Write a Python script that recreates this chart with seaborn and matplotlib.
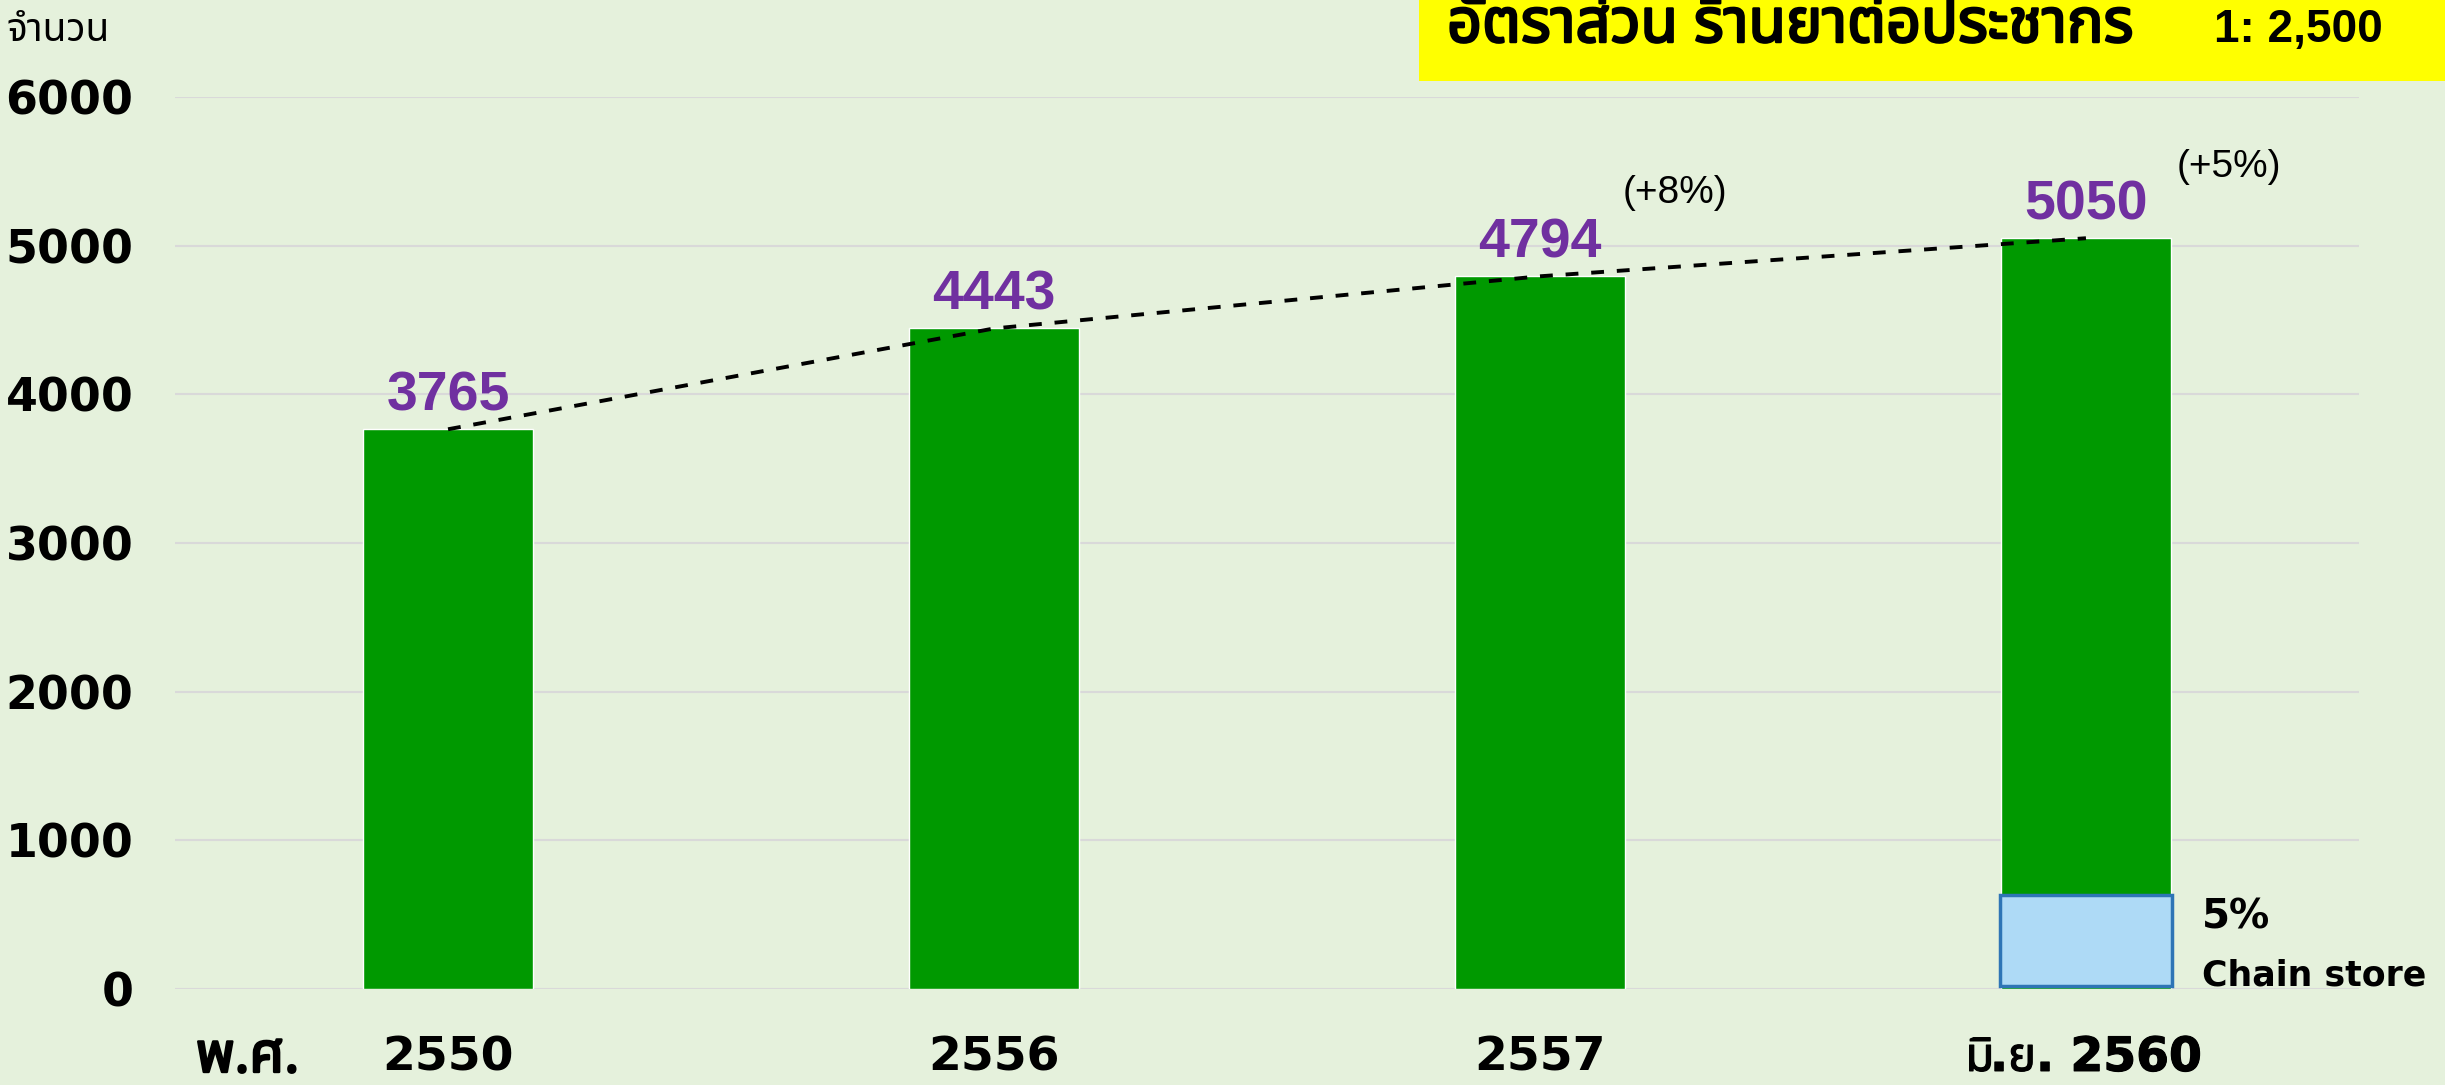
import matplotlib
matplotlib.use('Agg')
import matplotlib.pyplot as plt
import matplotlib.patheffects as pe
import seaborn as sns
from matplotlib import font_manager
from matplotlib.ft2font import FT2Font
from matplotlib.transforms import blended_transform_factory

# ข้อมูล: จำนวนร้านยา
years = ['2550', '2556', '2557', 'มิ.ย. 2560']
stores = [3765, 4443, 4794, 5050]
growth_labels = ['', '', '(+8%)', '(+5%)']
y_ticks = [0, 1000, 2000, 3000, 4000, 5000, 6000]
y_title = 'จำนวน'
era_label = 'พ.ศ.'
title_text = 'อัตราส่วน ร้านยาต่อประชากร'
ratio_text = '1: 2,500'
chain_pct = '5%'
chain_label = 'Chain store'


def thai_font():
    # หาฟอนต์ที่มีอักษรไทย
    preferred = ['Noto Sans Thai', 'Noto Sans Thai UI', 'Loma', 'Garuda', 'Waree',
                 'Sawasdee', 'Umpush', 'Norasi', 'Kinnari', 'Laksaman', 'Tlwg Typo']
    found = []
    for f in font_manager.fontManager.ttflist:
        try:
            if ord('จ') in FT2Font(f.fname).get_charmap():
                found.append(f.name)
        except Exception:
            continue
    for name in preferred:
        if name in found:
            return name
    return found[0] if found else 'DejaVu Sans'


installed = {f.name for f in font_manager.fontManager.ttflist}
THAI = thai_font()
NUM_FONT = 'Liberation Sans Narrow' if 'Liberation Sans Narrow' in installed else 'Liberation Sans'

BG = '#E5F1DC'
sns.set_theme(style='whitegrid')
plt.rcParams.update({'figure.facecolor': BG, 'axes.facecolor': BG, 'savefig.facecolor': BG,
                     'text.color': 'black', 'xtick.color': 'black', 'ytick.color': 'black'})
plt.rcParams['font.family'] = ['DejaVu Sans', THAI]

# ตัวหนาเทียมสำหรับอักษรไทย
fake_bold = [pe.withStroke(linewidth=1.8, foreground='black')]

fig = plt.figure(figsize=(24.45, 10.85), dpi=100)
ax = fig.add_axes([0.0716, 0.0885, 0.8932, 0.8221])

# แท่งกราฟ
sns.barplot(x=years, y=stores, color='#009900', saturation=1, width=0.311, ax=ax, zorder=2)

# เส้นประแนวโน้ม
sns.lineplot(x=list(range(len(stores))), y=stores, color='black', linewidth=2.8, ax=ax, zorder=4)
ax.lines[-1].set_linestyle((0, (3.3, 3.3)))

# กล่อง chain store
ax.bar(3, 610, bottom=20, width=0.314, color='#AEDAF6', edgecolor='#2E75B6', linewidth=2.5, zorder=3)
ax.text(3.213, 482, chain_pct, fontsize=29, fontweight='bold', ha='left', va='center', zorder=5)
ax.text(3.213, 94, chain_label, fontsize=25, fontweight='bold', ha='left', va='center', zorder=5)

# ตัวเลขบนแท่ง
for i, v in enumerate(stores):
    ax.annotate(str(v), (i, v), xytext=(0, 5), textcoords='offset points',
                ha='center', va='bottom', fontsize=44 if NUM_FONT != 'Liberation Sans' else 40,
                fontweight='bold', color='#7030A0', family=NUM_FONT, zorder=5)

growth_offsets = [(0, 0), (0, 0), (97, 60), (103, 51)]
for i, (v, g) in enumerate(zip(stores, growth_labels)):
    if g:
        ax.annotate(g, (i, v), xytext=growth_offsets[i], textcoords='offset points',
                    ha='center', va='center', fontsize=28, family='Liberation Sans', zorder=5)

# แกน
ax.set_ylim(0, 6000)
ax.set_xlim(-0.5, 3.5)
ax.set_yticks(y_ticks)
ax.set_yticklabels([str(t) for t in y_ticks], fontsize=33, fontweight='bold')
ax.set_xticks(range(len(years)))
ax.set_xticklabels(years, fontsize=34, fontweight='bold', va='baseline')
ax.get_xticklabels()[-1].set_path_effects([pe.withStroke(linewidth=0.8, foreground='black')])
ax.tick_params(axis='y', length=0, pad=30)
ax.tick_params(axis='x', length=0, pad=59)
ax.set_xlabel('')
ax.set_ylabel('')
ax.yaxis.grid(True, color='#D9D9D9', linewidth=1.5)
ax.xaxis.grid(False)
ax.set_axisbelow(True)
for s in ax.spines.values():
    s.set_visible(False)

trans = blended_transform_factory(ax.transData, ax.transAxes)
ax.text(-0.367, -0.093, era_label, transform=trans, fontsize=40, fontweight='bold',
        ha='center', va='baseline', family=[THAI, 'DejaVu Sans'], path_effects=fake_bold)

fig.text(0.0025, 0.9625, y_title, fontsize=28, ha='left', va='baseline', family=[THAI, 'DejaVu Sans'])

# กล่องสีเหลือง
fig.patches.append(plt.Rectangle((0.5804, 0.925), 0.4196, 0.075, transform=fig.transFigure,
                                 facecolor='#FFFF00', edgecolor='none', zorder=0))
fig.text(0.5918, 0.9613, title_text, fontsize=44, fontweight='bold', ha='left', va='baseline',
         family=[THAI, 'DejaVu Sans'], path_effects=fake_bold)
fig.text(0.9055, 0.9613, ratio_text, fontsize=33, fontweight='bold', ha='left', va='baseline',
         family=['Liberation Sans', THAI])

fig.savefig('out.png', dpi=100)
